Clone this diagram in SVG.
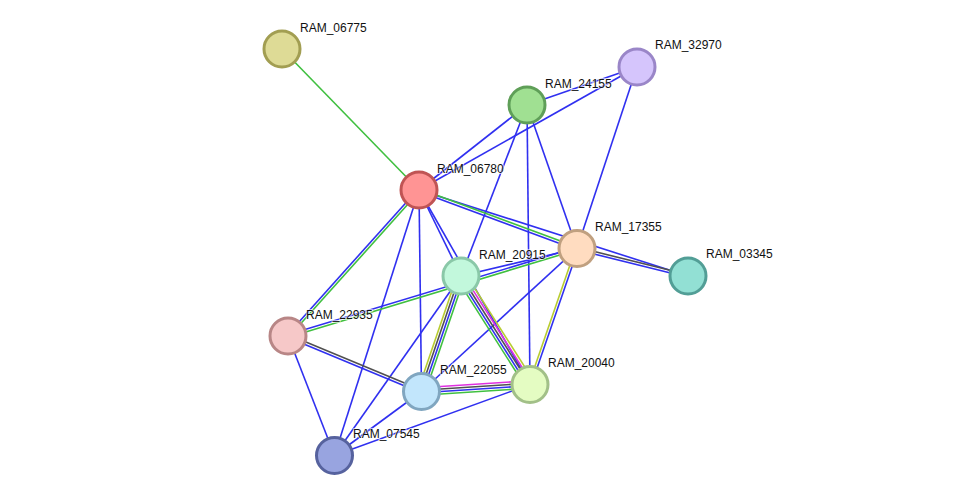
<svg xmlns="http://www.w3.org/2000/svg" width="975" height="501" viewBox="0 0 975 501">
<style>
.e line{stroke-width:1.6;fill:none}
.b{stroke:#3030f0}
.g{stroke:#40c040}
.y{stroke:#b8cc30}
.k{stroke:#505050}
.m{stroke:#e030e0}
.n circle{stroke-width:3}
.n text{font-family:"Liberation Sans",Arial,sans-serif;font-size:12px;fill:#111;stroke:#fff;stroke-width:2;stroke-opacity:0.6;paint-order:stroke}
</style>
<rect width="975" height="501" fill="#fff"/>
<g id="connectors" class="e">
<line class="g" x1="282" y1="49" x2="419" y2="190"/>
<line class="b" x1="419" y1="190" x2="527" y2="105"/>
<line class="b" x1="419" y1="190" x2="637" y2="67"/>
<line class="b" x1="527" y1="105" x2="637" y2="67"/>
<line class="b" x1="637" y1="67" x2="577" y2="248.5"/>
<line class="b" x1="527" y1="105" x2="461" y2="276"/>
<line class="b" x1="527" y1="105" x2="530" y2="384.5"/>
<line class="b" x1="527" y1="105" x2="577" y2="248.5"/>
<line class="b" x1="419" y1="190" x2="688" y2="276"/>
<line class="b" x1="419" y1="190" x2="461" y2="276"/>
<line class="b" x1="419" y1="190" x2="530" y2="384.5"/>
<line class="b" x1="419" y1="190" x2="421.5" y2="391.5"/>
<line class="b" x1="419" y1="190" x2="334.5" y2="455.5"/>
<line class="b" x1="577" y1="248.5" x2="461" y2="276"/>
<line class="b" x1="577" y1="248.5" x2="421.5" y2="391.5"/>
<line class="b" x1="461" y1="276" x2="334.5" y2="455.5"/>
<line class="b" x1="288" y1="336" x2="334.5" y2="455.5"/>
<line class="b" x1="421.5" y1="391.5" x2="334.5" y2="455.5"/>
<line class="b" x1="530" y1="384.5" x2="334.5" y2="455.5"/>
<!-- 06780-17355 -->
<line class="g" x1="419.43" y1="188.83" x2="577.43" y2="247.33"/>
<line class="b" x1="418.57" y1="191.17" x2="576.57" y2="249.67"/>
<!-- 17355-03345 -->
<line class="k" x1="577.3" y1="247.29" x2="688.3" y2="274.79"/>
<line class="b" x1="576.7" y1="249.71" x2="687.7" y2="277.21"/>
<!-- 06780-22935 -->
<line class="b" x1="418.07" y1="189.17" x2="287.07" y2="335.17"/>
<line class="g" x1="419.93" y1="190.84" x2="288.93" y2="336.84"/>
<!-- 22935-17355 -->
<line class="b" x1="287.64" y1="334.8" x2="576.64" y2="247.3"/>
<line class="g" x1="288.36" y1="337.2" x2="577.36" y2="249.7"/>
<!-- 22935-22055 -->
<line class="k" x1="288.48" y1="334.85" x2="421.98" y2="390.35"/>
<line class="b" x1="287.52" y1="337.15" x2="421.02" y2="392.65"/>
<!-- 20915-22055 -->
<line class="y" x1="457.45" y1="274.79" x2="417.95" y2="390.29"/>
<line class="k" x1="459.82" y1="275.6" x2="420.32" y2="391.1"/>
<line class="b" x1="462.18" y1="276.4" x2="422.68" y2="391.9"/>
<line class="g" x1="464.55" y1="277.22" x2="425.05" y2="392.72"/>
<!-- 20915-20040 -->
<line class="g" x1="456.78" y1="278.69" x2="525.78" y2="387.19"/>
<line class="b" x1="458.89" y1="277.34" x2="527.89" y2="385.84"/>
<line class="k" x1="461" y1="276" x2="530" y2="384.5"/>
<line class="m" x1="463.11" y1="274.66" x2="532.11" y2="383.16"/>
<line class="y" x1="465.22" y1="273.32" x2="534.22" y2="381.82"/>
<!-- 22055-20040 -->
<line class="m" x1="421.26" y1="387.76" x2="529.76" y2="380.76"/>
<line class="k" x1="421.42" y1="390.25" x2="529.92" y2="383.25"/>
<line class="b" x1="421.58" y1="392.75" x2="530.08" y2="385.75"/>
<line class="g" x1="421.74" y1="395.24" x2="530.24" y2="388.24"/>
<!-- 17355-20040 -->
<line class="y" x1="575.82" y1="248.09" x2="528.82" y2="384.09"/>
<line class="b" x1="578.18" y1="248.91" x2="531.18" y2="384.91"/>
</g>
<g id="RAM_06775" class="n"><circle cx="282" cy="49" r="18" fill="#dedb96" stroke="#a29e52"/><text x="300" y="32">RAM_06775</text></g>
<g id="RAM_32970" class="n"><circle cx="637" cy="67" r="18" fill="#d5c5fc" stroke="#9a86c8"/><text x="655" y="49">RAM_32970</text></g>
<g id="RAM_24155" class="n"><circle cx="527" cy="105" r="18" fill="#a0e092" stroke="#5f9f58"/><text x="545" y="88">RAM_24155</text></g>
<g id="RAM_06780" class="n"><circle cx="419" cy="190" r="18" fill="#ff9494" stroke="#c05454"/><text x="437" y="173">RAM_06780</text></g>
<g id="RAM_17355" class="n"><circle cx="577" cy="248.5" r="18" fill="#ffdcc0" stroke="#c0a080"/><text x="595" y="231">RAM_17355</text></g>
<g id="RAM_03345" class="n"><circle cx="688" cy="276" r="18" fill="#92e0d4" stroke="#529e96"/><text x="706" y="258">RAM_03345</text></g>
<g id="RAM_20915" class="n"><circle cx="461" cy="276" r="18" fill="#c2f8dc" stroke="#8ac8a8"/><text x="479" y="259">RAM_20915</text></g>
<g id="RAM_22935" class="n"><circle cx="288" cy="336" r="18" fill="#f6c8c8" stroke="#b88686"/><text x="306" y="319">RAM_22935</text></g>
<g id="RAM_22055" class="n"><circle cx="421.5" cy="391.5" r="18" fill="#c2e6fc" stroke="#80a6c0"/><text x="440" y="374">RAM_22055</text></g>
<g id="RAM_20040" class="n"><circle cx="530" cy="384.5" r="18" fill="#e4fcc2" stroke="#a2c088"/><text x="548" y="367">RAM_20040</text></g>
<g id="RAM_07545" class="n"><circle cx="334.5" cy="455.5" r="18" fill="#98a4e0" stroke="#56629e"/><text x="353" y="438">RAM_07545</text></g>
</svg>
